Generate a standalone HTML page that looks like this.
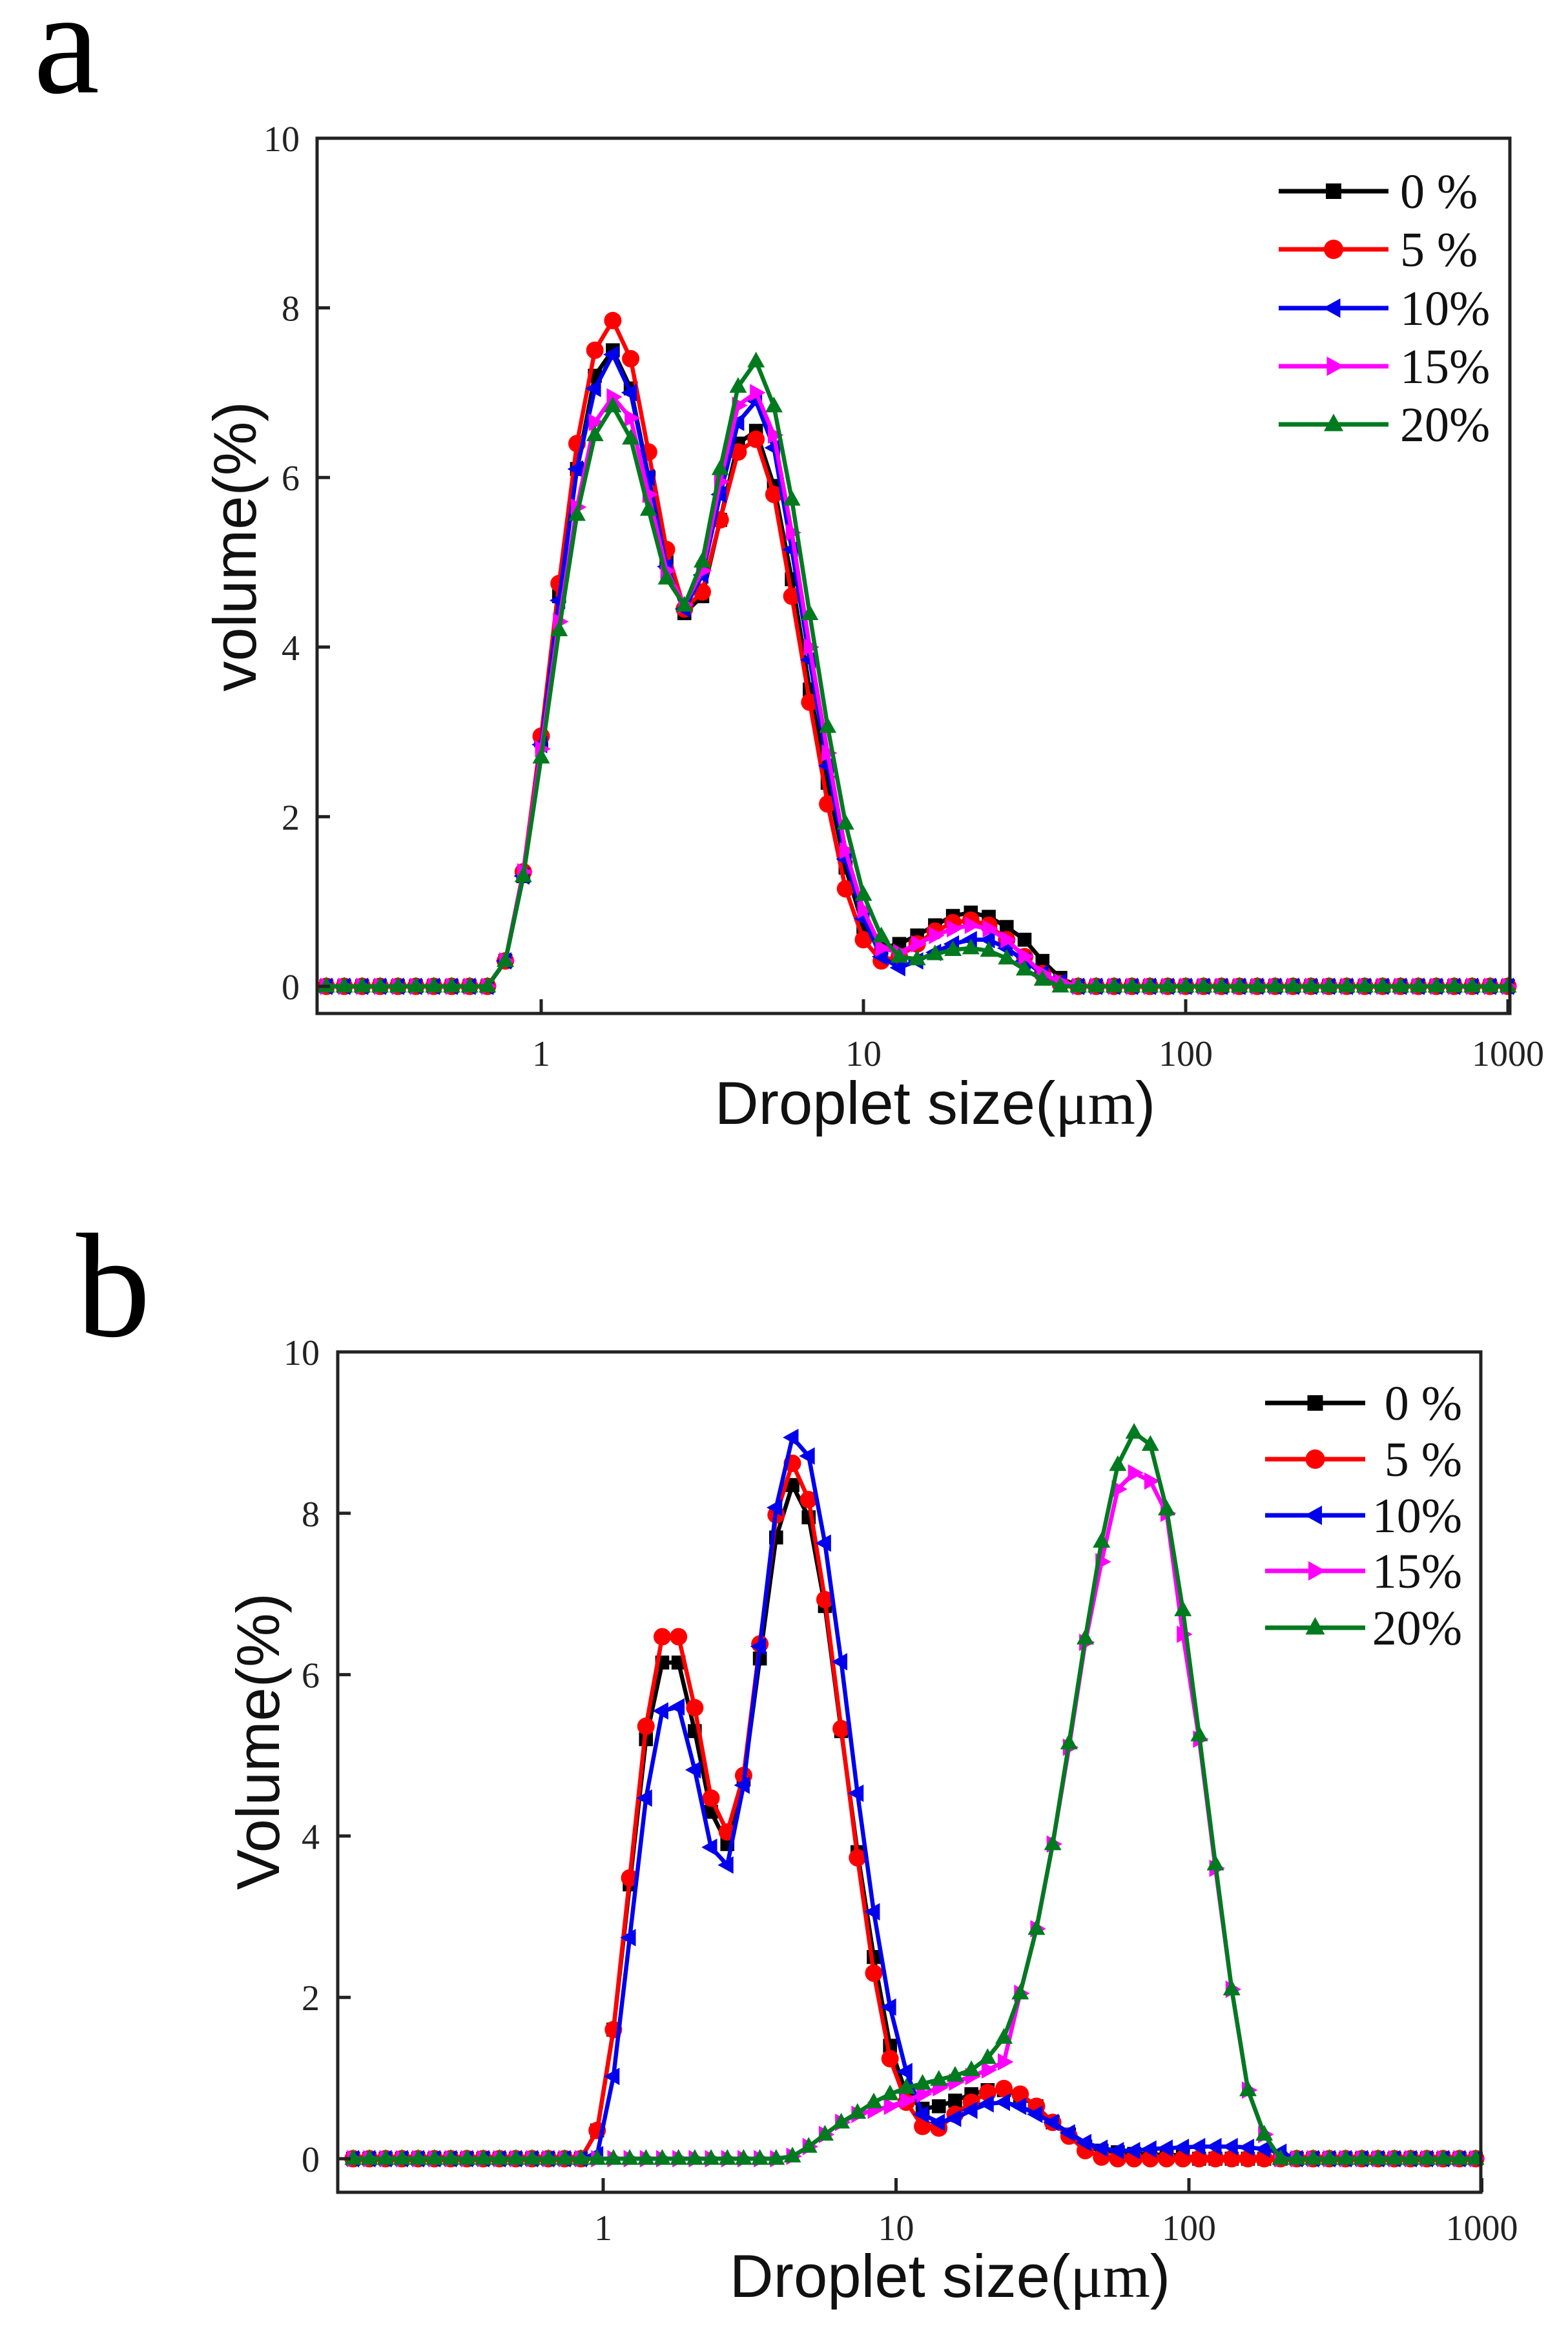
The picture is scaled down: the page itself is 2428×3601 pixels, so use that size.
<!DOCTYPE html>
<html><head><meta charset="utf-8"><style>
html,body{margin:0;padding:0;background:#fff}
svg{display:block}
.tk{font-family:"Liberation Serif",serif;font-size:56px;fill:#222}
.lg{font-family:"Liberation Serif",serif;font-size:76px;fill:#111}
.tt{font-family:"Liberation Sans",sans-serif;font-size:94px;fill:#111}
.pl{font-family:"Liberation Serif",serif;font-size:230px;fill:#000}
</style></head><body>
<svg id="fig" width="2428" height="3601" viewBox="0 0 2428 3601" xmlns="http://www.w3.org/2000/svg"></svg>
<script>
// Panel a data: bins at log10(size) = (k)/18, k = -12..54
const binsPerDecade = 18;
const firstBinA = -12;
const a0 = [0,0,0,0,0,0,0,0,0,0,0.3,1.3,2.9,4.6,6.1,7.2,7.5,7.05,6.0,5.0,4.4,4.6,5.5,6.4,6.55,5.9,4.8,3.5,2.4,1.4,0.7,0.45,0.5,0.6,0.72,0.83,0.87,0.82,0.7,0.55,0.3,0.1,0,0,0,0,0,0,0,0,0,0,0,0,0,0,0,0,0,0,0,0,0,0,0,0,0];
const a5 = [0,0,0,0,0,0,0,0,0,0,0.3,1.35,2.95,4.75,6.4,7.5,7.85,7.4,6.3,5.15,4.45,4.65,5.5,6.3,6.45,5.8,4.6,3.35,2.15,1.15,0.55,0.3,0.35,0.5,0.65,0.75,0.78,0.72,0.55,0.35,0.15,0.03,0,0,0,0,0,0,0,0,0,0,0,0,0,0,0,0,0,0,0,0,0,0,0,0,0];
const a10 = [0,0,0,0,0,0,0,0,0,0,0.3,1.3,2.85,4.55,6.1,7.05,7.45,7.0,6.0,4.95,4.45,4.85,5.8,6.65,6.9,6.35,5.15,3.85,2.6,1.5,0.8,0.35,0.22,0.3,0.4,0.5,0.55,0.55,0.45,0.3,0.15,0.05,0,0,0,0,0,0,0,0,0,0,0,0,0,0,0,0,0,0,0,0,0,0,0,0,0];
const a15 = [0,0,0,0,0,0,0,0,0,0,0.3,1.35,2.8,4.3,5.65,6.65,6.95,6.7,5.8,4.9,4.5,4.9,5.95,6.85,7.0,6.5,5.35,4.0,2.75,1.6,0.9,0.45,0.4,0.5,0.6,0.68,0.72,0.68,0.55,0.35,0.15,0.05,0,0,0,0,0,0,0,0,0,0,0,0,0,0,0,0,0,0,0,0,0,0,0,0,0];
const a20 = [0,0,0,0,0,0,0,0,0,0,0.3,1.3,2.7,4.2,5.56,6.5,6.84,6.46,5.62,4.81,4.49,5.01,6.1,7.07,7.37,6.84,5.74,4.39,3.06,1.92,1.08,0.59,0.35,0.32,0.38,0.43,0.45,0.42,0.33,0.2,0.08,0,0,0,0,0,0,0,0,0,0,0,0,0,0,0,0,0,0,0,0,0,0,0,0,0,0];
// Panel b data: bins n = -15..54, first bin offset
const firstBinB = -15;
const offsetB = -0.37;
const b0 = [0,0,0,0,0,0,0,0,0,0,0,0,0,0,0,0.35,1.6,3.4,5.2,6.15,6.15,5.3,4.3,3.9,4.7,6.2,7.7,8.35,7.95,6.85,5.3,3.8,2.5,1.4,0.8,0.62,0.65,0.72,0.8,0.85,0.85,0.78,0.65,0.45,0.3,0.15,0.1,0.08,0.06,0.05,0.05,0.04,0,0,0,0,0,0,0,0,0,0,0,0,0,0,0,0,0,0];
const b5 = [0,0,0,0,0,0,0,0,0,0,0,0,0,0,0,0.35,1.6,3.48,5.36,6.47,6.47,5.59,4.47,4.05,4.75,6.38,7.98,8.62,8.17,6.93,5.33,3.73,2.3,1.24,0.7,0.4,0.38,0.55,0.7,0.82,0.87,0.8,0.65,0.45,0.28,0.1,0.02,0,0,0,0,0,0,0,0,0,0,0,0,0,0,0,0,0,0,0,0,0,0,0];
const b10 = [0,0,0,0,0,0,0,0,0,0,0,0,0,0,0,0.05,1.02,2.74,4.47,5.55,5.6,4.82,3.86,3.64,4.63,6.35,8.07,8.94,8.71,7.63,6.16,4.53,3.06,1.88,1.08,0.55,0.45,0.5,0.6,0.68,0.7,0.65,0.55,0.45,0.32,0.2,0.13,0.1,0.1,0.12,0.13,0.14,0.15,0.15,0.15,0.14,0.12,0.08,0,0,0,0,0,0,0,0,0,0,0,0];
const b15 = [0,0,0,0,0,0,0,0,0,0,0,0,0,0,0,0,0,0,0,0,0,0,0,0,0,0,0,0.03,0.15,0.3,0.45,0.55,0.6,0.65,0.72,0.8,0.88,0.95,1.02,1.1,1.2,2.05,2.85,3.9,5.1,6.4,7.4,8.3,8.5,8.4,8.0,6.5,5.2,3.6,2.1,0.85,0.3,0,0,0,0,0,0,0,0,0,0,0,0,0];
const b20 = [0,0,0,0,0,0,0,0,0,0,0,0,0,0,0,0,0,0,0,0,0,0,0,0,0,0,0,0.03,0.15,0.3,0.45,0.57,0.7,0.8,0.88,0.93,0.98,1.03,1.1,1.25,1.5,2.05,2.85,3.9,5.15,6.45,7.65,8.6,9.0,8.85,8.05,6.8,5.25,3.65,2.1,0.85,0.3,0,0,0,0,0,0,0,0,0,0,0,0,0];
const seriesLabelsA = ["0 %","5 %","10%","15%","20%"];
const seriesLabelsB = ["0 %","5 %","10%","15%","20%"];
const xTicks = [1,10,100,1000];
const xTickLabels = ["1","10","100","1000"];
const yTicks = [0,2,4,6,8,10];

const NS = "http://www.w3.org/2000/svg";
const svg = document.getElementById('fig');
function mk(tag, attrs, parent){const e=document.createElementNS(NS,tag);for(const k in attrs)e.setAttribute(k,attrs[k]);(parent||svg).appendChild(e);return e;}
const colors = ["#000000","#ff0000","#0000ee","#ff00ff","#007a1f"];
const shapes = ["square","circle","left","right","up"];

function marker(g, shape, x, y, s, c){
  let e;
  if(shape==="square"){e=mk('rect',{x:x-s*0.8,y:y-s*0.8,width:s*1.6,height:s*1.6,fill:c},g);}
  else if(shape==="circle"){e=mk('circle',{cx:x,cy:y,r:s,fill:c},g);}
  else{let p;
    if(shape==="up")p=[[x,y-s*1.1],[x-s,y+s*0.7],[x+s,y+s*0.7]];
    else if(shape==="left")p=[[x-s*1.1,y],[x+s*0.7,y-s],[x+s*0.7,y+s]];
    else p=[[x+s*1.1,y],[x-s*0.7,y-s],[x-s*0.7,y+s]];
    e=mk('polygon',{points:p.map(q=>q.join(',')).join(' '),fill:c},g);}
  
  
}

function panel(cfg){
  const g = mk('g',{});
  
  
  const xs = v => cfg.x1 + Math.log10(v)*cfg.dec;
  const ys = v => cfg.y0 - v*cfg.yu;
  cfg.series.forEach((arr,si)=>{
    const sg = mk('g',{},g);
    
    
    const pts = arr.map((v,i)=>{const size=Math.pow(10,(cfg.first+i+cfg.off)/binsPerDecade);return [xs(size),ys(v)];}).filter(p=>p[0]>=cfg.L-2&&p[0]<=cfg.R+2);
    const pl = mk('polyline',{points:pts.map(p=>p[0].toFixed(1)+','+p[1].toFixed(1)).join(' '),fill:'none',stroke:colors[si],'stroke-width':6.5,'stroke-linejoin':'round'},sg);
    
    
    pts.forEach(p=>marker(sg,shapes[si],p[0],p[1],13.5,colors[si]));
  });
  const fr = mk('rect',{x:cfg.L,y:cfg.T,width:cfg.R-cfg.L,height:cfg.B-cfg.T,fill:'none',stroke:'#222','stroke-width':5},g);
  
  
  xTicks.forEach((t,i)=>{
    const x=xs(t);
    const l=mk('line',{x1:x,y1:cfg.B,x2:x,y2:cfg.B-22,stroke:'#222','stroke-width':5},g);
    
    
    const tx=mk('text',{x:x,y:cfg.xly,'text-anchor':'middle',class:'tk'},g);
    tx.textContent=xTickLabels[i];
    
    
  });
  yTicks.forEach(t=>{
    const y=ys(t);
    const l=mk('line',{x1:cfg.L,y1:y,x2:cfg.L+20,y2:y,stroke:'#222','stroke-width':5},g);
    
    
    const tx=mk('text',{x:cfg.ylx,y:y+20,'text-anchor':'end',class:'tk'},g);
    tx.textContent=String(t);
    
    
  });
  cfg.labels.forEach((lab,i)=>{
    const y=cfg.legY[i];
    const lg=mk('g',{},g);
    
    
    mk('line',{x1:cfg.legX1,y1:y,x2:cfg.legX2,y2:y,stroke:colors[i],'stroke-width':7},lg);
    marker(lg,shapes[i],(cfg.legX1+cfg.legX2)/2,y,15,colors[i]);
    const tx=mk('text',{x:cfg.legTX,y:y+26,'text-anchor':cfg.legAnchor,class:'lg'},lg);
    tx.textContent=lab;
  });
  const xt=mk('text',{x:cfg.xtX,y:cfg.xtY,'text-anchor':'middle',class:'tt'},g);
  
  
  xt.innerHTML='Droplet size(<tspan font-family="Liberation Serif, serif">μm</tspan>)';
  const yt=mk('text',{x:0,y:0,'text-anchor':'middle',class:'tt',transform:`translate(${cfg.ytX},${cfg.ytY}) rotate(-90)`},g);
  
  
  yt.textContent=cfg.ytitle;
  const pl=mk('text',{x:cfg.plX,y:cfg.plY,class:'pl'},g);
  
  
  pl.textContent=cfg.panel;
}

panel({name:'panel-a',panel:'a',plX:52,plY:143,first:firstBinA,off:0,series:[a0,a5,a10,a15,a20],labels:seriesLabelsA,
  L:491,R:2338,T:214,B:1569,x1:838,dec:499,y0:1527,yu:131.3,xly:1650,ylx:464,
  legX1:1980,legX2:2150,legY:[296,386,477,567,657],legTX:2168,legAnchor:'start',
  xtX:1448,xtY:1740,ytX:396,ytY:846,ytitle:'volume(%)'});
panel({name:'panel-b',panel:'b',plX:118,plY:2068,first:firstBinB,off:offsetB,series:[b0,b5,b10,b15,b20],labels:seriesLabelsB,
  L:523,R:2293,T:2093,B:3394,x1:934,dec:453.5,y0:3342,yu:124.9,xly:3468,ylx:495,
  legX1:1959,legX2:2114,legY:[2172,2259,2346,2432,2520],legTX:2264,legAnchor:'end',
  xtX:1471,xtY:3556,ytX:432,ytY:2696,ytitle:'Volume(%)'});
</script>
</body></html>
